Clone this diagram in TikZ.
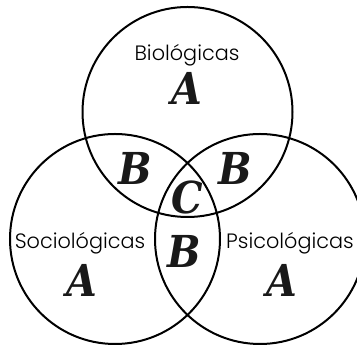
\documentclass[tikz,border=0pt]{standalone}
\usepackage{fontspec}
\newfontfamily\labelfont{Poppins Light}
\newfontfamily\letterfont{DejaVu Serif Condensed}
\usetikzlibrary{positioning}

\begin{document}
\begin{tikzpicture}[
    x=0.75pt, y=0.75pt,
    % Define circle style
    ring/.style={line width=1.5pt, black},
    labeltext/.style={font=\labelfont\fontsize{15.6}{17}\selectfont, inner sep=0pt, text=black},
    bigletter/.style={font=\letterfont\bfseries\itshape\fontsize{33}{34}\selectfont, inner sep=0pt, text=black!90}
]

% Define radius
\def\radius{105}

% Frame of the picture
\clip (0,0) rectangle (357,345);

% Circle centres
\coordinate (bio) at (187.5,233);
\coordinate (soc) at (115,106);
\coordinate (psi) at (260,106);

% Circles
\draw[ring] (bio) circle (\radius);
\draw[ring] (soc) circle (\radius);
\draw[ring] (psi) circle (\radius);

% Names of the three sets
\node[labeltext] (biolabel) at (187,290) {Biológicas};
\node[labeltext] (soclabel) at (80,102) {Sociológicas};
\node[labeltext] (psilabel) at (290,102) {Psicológicas};

% Letters in the regions
\node[bigletter] (bioA) at (187,257) {A};
\node[bigletter] (socA) at (82,65) {A};
\node[bigletter] (psiA) at (282,65) {A};
\node[bigletter] (biosocB) at (135,177) {B};
\node[bigletter] (biopsiB) at (235,177) {B};
\node[bigletter] (socpsiB) at (184.5,94) {B};
\node[bigletter] (allC) at (187,148) {C};

\end{tikzpicture}
\end{document}
